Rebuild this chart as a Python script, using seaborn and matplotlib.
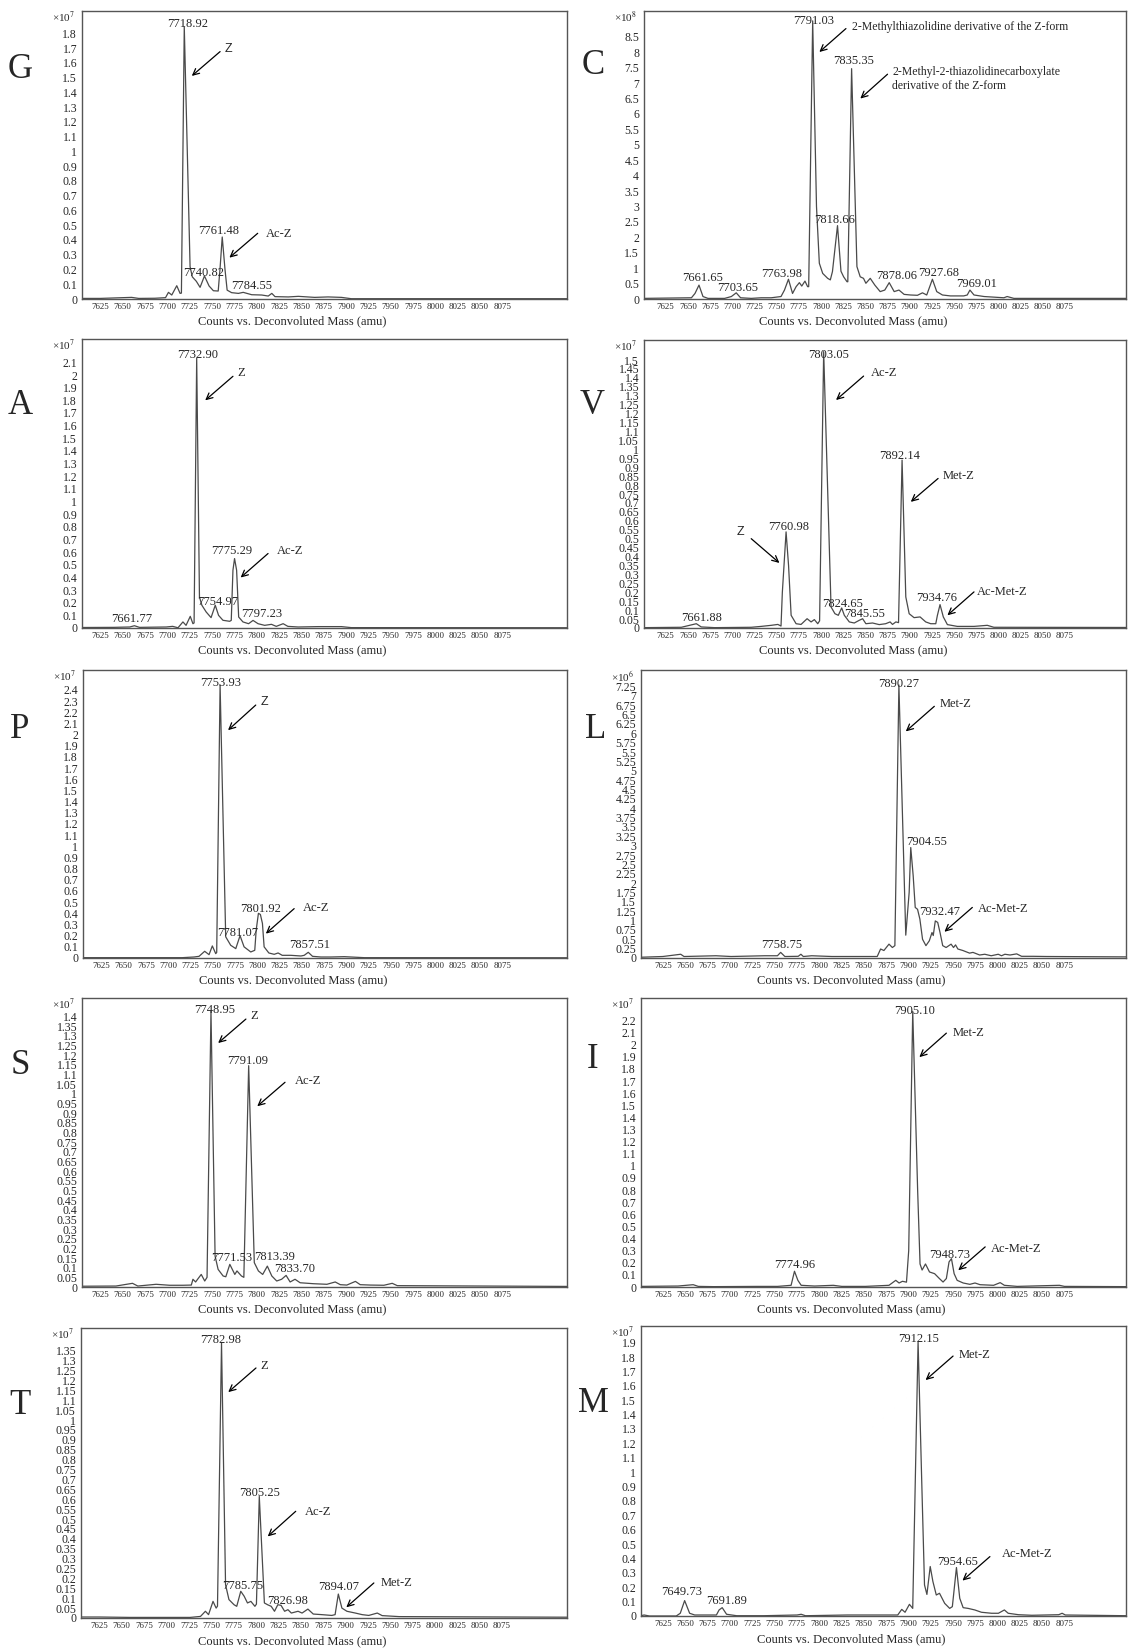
import numpy as np
import pandas as pd
import matplotlib
matplotlib.use("Agg")
import matplotlib.pyplot as plt
import seaborn as sns

# ---------------------------------------------------------------- data
# deconvoluted mass spectra, counts in units of the panel multiplier (x10^n)
mass_G = [7605, 7625, 7660, 7668, 7686, 7698, 7701.3, 7705, 7710.6, 7714.3, 7715.8, 7719, 7725.5, 7728,
          7732.5, 7736.7, 7741.6, 7746.8, 7751.6, 7757, 7759.2, 7761.5, 7764.6, 7767, 7772, 7779.6, 7785,
          7794.5, 7805.7, 7813, 7817, 7820.6, 7835.5, 7846.7, 7865, 7880, 7895, 7906, 8148]
counts_G = [0.004, 0.004, 0.011, 0.004, 0.005, 0.009, 0.045, 0.027, 0.09, 0.038, 0.04, 1.845, 0.219, 0.15,
            0.12, 0.079, 0.156, 0.088, 0.056, 0.054, 0.219, 0.42, 0.2, 0.06, 0.043, 0.038, 0.045,
            0.029, 0.027, 0.02, 0.038, 0.016, 0.014, 0.018, 0.011, 0.014, 0.011, 0.002, 0.002]

mass_A = [7605, 7640, 7658, 7663.2, 7668.8, 7698.8, 7706, 7712, 7717.5, 7721, 7725.7, 7728.7, 7730, 7732.9,
          7736, 7738.7, 7743.5, 7749, 7753.7, 7757.4, 7762.3, 7769.8, 7771.6, 7773.5, 7775.3, 7777.6,
          7779.9, 7784.7, 7791, 7796, 7801.6, 7809, 7816.6, 7822, 7829.7, 7835, 7846.5, 7869, 7895, 7906, 8148]
counts_A = [0.004, 0.005, 0.008, 0.018, 0.005, 0.008, 0.013, 0.002, 0.048, 0.021, 0.092, 0.034, 0.04, 2.134,
            0.246, 0.18, 0.127, 0.082, 0.18, 0.1, 0.061, 0.053, 0.06, 0.457, 0.549, 0.457,
            0.087, 0.048, 0.034, 0.06, 0.034, 0.021, 0.029, 0.013, 0.034, 0.013, 0.008, 0.011, 0.011, 0.003, 0.002]

mass_P = [7605, 7716, 7729, 7734.7, 7741, 7745.9, 7749.6, 7753.4, 7754.5, 7758.3, 7764.6, 7770.2, 7775.9,
          7780.7, 7785.2, 7792.7, 7797.2, 7798.8, 7801.3, 7803.5, 7805.8, 7807.7, 7813, 7819, 7823.4, 7828,
          7837.7, 7849, 7852.7, 7857.2, 7862, 7871.4, 7882.6, 7897.6, 7920, 8148]
counts_P = [0.003, 0.003, 0.009, 0.015, 0.06, 0.03, 0.108, 0.039, 0.05, 2.445, 0.19, 0.114, 0.084,
            0.2, 0.1, 0.054, 0.069, 0.25, 0.4, 0.39, 0.31, 0.1, 0.045, 0.033, 0.045, 0.024,
            0.024, 0.018, 0.024, 0.051, 0.015, 0.009, 0.009, 0.012, 0.003, 0.002]

mass_S = [7605, 7642.5, 7661, 7667, 7687.5, 7702.5, 7717.5, 7726.9, 7728.7, 7731.7, 7734.4, 7738, 7741.9,
          7744.5, 7748.9, 7753.5, 7756.9, 7762.5, 7765.5, 7770, 7775.6, 7778, 7783, 7785.7, 7791.1, 7797.4,
          7802, 7806.8, 7812, 7817, 7822.5, 7828, 7833, 7837.5, 7843, 7848.7, 7863.7, 7878.7, 7888, 7893.7,
          7901, 7910.6, 7916, 7927.5, 7942.5, 7951.8, 7957.5, 8148]
counts_S = [0.004, 0.005, 0.019, 0.005, 0.014, 0.009, 0.009, 0.01, 0.04, 0.026, 0.043, 0.065, 0.031,
            0.05, 1.426, 0.16, 0.091, 0.057, 0.053, 0.117, 0.065, 0.083, 0.057, 0.05, 1.145, 0.126,
            0.083, 0.065, 0.108, 0.057, 0.031, 0.04, 0.06, 0.026, 0.04, 0.022, 0.017, 0.014, 0.026, 0.012,
            0.01, 0.029, 0.012, 0.01, 0.009, 0.019, 0.007, 0.003]

mass_T = [7605, 7625, 7659, 7726.5, 7738, 7743.5, 7747, 7752, 7755.5, 7757, 7761.5, 7766, 7769.8, 7775.5,
          7778.5, 7783, 7786.8, 7790.5, 7794.3, 7798.8, 7800.5, 7803.7, 7809.4, 7813, 7817, 7820.7, 7824.4,
          7828, 7832, 7835.7, 7839.5, 7847, 7851.5, 7858, 7864, 7873.4, 7884.7, 7888.4, 7892, 7896,
          7901.6, 7911, 7918.6, 7926, 7935.5, 7941, 7960, 8148]
counts_T = [0.005, 0.005, 0.003, 0.003, 0.008, 0.034, 0.017, 0.084, 0.05, 0.06, 1.389, 0.168, 0.093, 0.067,
            0.059, 0.135, 0.11, 0.076, 0.084, 0.059, 0.07, 0.614, 0.076, 0.067, 0.059, 0.034, 0.067,
            0.064, 0.034, 0.042, 0.025, 0.034, 0.025, 0.045, 0.02, 0.017, 0.013, 0.017, 0.121, 0.05,
            0.034, 0.025, 0.017, 0.013, 0.025, 0.012, 0.007, 0.004]

mass_C = [7600, 7654, 7658, 7662.5, 7667, 7672.6, 7691.4, 7699, 7704.5, 7709.4, 7721.4, 7732.6, 7744, 7755,
          7758.9, 7763.4, 7768, 7772, 7775.7, 7778.4, 7782, 7785, 7786.2, 7790.7, 7795, 7798.2, 7802,
          7807.6, 7810.6, 7813, 7818.7, 7822.6, 7825.6, 7829.4, 7830.3, 7834.6, 7840.6, 7844.3, 7848,
          7850.7, 7855.6, 7860.8, 7866.8, 7872, 7877, 7882.6, 7888, 7893.8, 7901, 7908.8, 7914.5, 7919.3,
          7925.7, 7930.6, 7937, 7946, 7961, 7965, 7968, 7972.6, 7984, 8006.3, 8010, 8017.6, 8144]
counts_C = [0.02, 0.04, 0.18, 0.45, 0.08, 0.02, 0.02, 0.08, 0.2, 0.04, 0.02, 0.04, 0.04, 0.08,
            0.29, 0.64, 0.18, 0.4, 0.53, 0.42, 0.58, 0.4, 0.4, 9.02, 3.0, 1.16, 0.83,
            0.67, 0.62, 0.89, 2.38, 0.9, 0.72, 0.56, 0.56, 7.47, 1.05, 0.72, 0.67,
            0.51, 0.67, 0.45, 0.24, 0.29, 0.53, 0.24, 0.29, 0.15, 0.13, 0.12, 0.2, 0.13,
            0.64, 0.24, 0.13, 0.1, 0.1, 0.13, 0.29, 0.13, 0.08, 0.04, 0.08, 0.02, 0.02]

mass_V = [7600, 7642.6, 7659.5, 7665, 7680, 7721.4, 7732.6, 7744, 7751.4, 7755, 7756.5, 7760.7, 7763.5,
          7766.4, 7772, 7777.6, 7784.4, 7788.9, 7792.6, 7796.4, 7798.5, 7803.1, 7811.4, 7815.8, 7819.6,
          7823.4, 7826.4, 7832, 7837.6, 7843.2, 7847, 7850.7, 7858.2, 7865.7, 7873, 7878, 7880.7, 7884.5,
          7887.5, 7891.5, 7895.7, 7899.5, 7905, 7911.8, 7918.2, 7923.8, 7929.5, 7931.3, 7934.3, 7938,
          7942.6, 7953.8, 7972.6, 7987.6, 7995, 8144]
counts_V = [0.002, 0.004, 0.024, 0.006, 0.002, 0.004, 0.009, 0.015, 0.02, 0.011, 0.2, 0.538, 0.35,
            0.071, 0.024, 0.02, 0.052, 0.034, 0.047, 0.024, 0.04, 1.547, 0.118, 0.08, 0.071,
            0.112, 0.071, 0.034, 0.028, 0.043, 0.052, 0.024, 0.028, 0.019, 0.024, 0.034, 0.02, 0.034,
            0.03, 0.94, 0.174, 0.08, 0.058, 0.062, 0.034, 0.024, 0.024, 0.07, 0.131, 0.062,
            0.019, 0.009, 0.009, 0.015, 0.004, 0.003]

mass_L = [7600, 7625, 7645, 7648.7, 7684.5, 7701.4, 7739, 7753.4, 7757, 7761.7, 7776.7, 7779.7, 7782.4,
          7791.8, 7803, 7814.4, 7865.2, 7869, 7872.7, 7878.4, 7882.2, 7885, 7889.5, 7897.2, 7901, 7902.8,
          7905.5, 7907.8, 7910.4, 7913, 7916, 7919.8, 7923.6, 7926.6, 7928, 7930.3, 7933, 7935.6, 7938.6,
          7942.4, 7948, 7950.7, 7953, 7955.6, 7961.2, 7968.7, 7972.5, 7980, 7985.7, 7993, 8000.8, 8004.5,
          8008.3, 8014, 8021.5, 8027, 8040, 8055, 8144]
counts_L = [0.02, 0.04, 0.1, 0.04, 0.06, 0.04, 0.06, 0.06, 0.15, 0.04, 0.045, 0.1, 0.04,
            0.06, 0.05, 0.04, 0.04, 0.24, 0.2, 0.37, 0.28, 0.33, 7.29, 0.61, 1.75, 2.95,
            2.2, 1.35, 1.3, 1.04, 0.5, 0.33, 0.46, 0.68, 0.6, 0.99, 0.95, 0.68, 0.33,
            0.28, 0.37, 0.28, 0.35, 0.24, 0.2, 0.13, 0.15, 0.08, 0.1, 0.06, 0.1, 0.06,
            0.1, 0.08, 0.11, 0.045, 0.045, 0.04, 0.03]

mass_I = [7600, 7642, 7659, 7664.7, 7681.7, 7731, 7753.6, 7768.7, 7772.5, 7776.3, 7780, 7795, 7816,
          7825.5, 7852, 7878.4, 7886, 7889.7, 7893.5, 7898, 7900.5, 7905, 7910.5, 7913.2, 7915.5, 7919.3,
          7923.8, 7929.5, 7935, 7939, 7942.7, 7945.7, 7948.4, 7951.4, 7954.8, 7961.6, 7969, 7974.8, 7980.5,
          7995.6, 8003, 8007.7, 8022, 8069.4, 8075, 8144]
counts_I = [0.005, 0.008, 0.019, 0.005, 0.003, 0.005, 0.005, 0.014, 0.13, 0.055, 0.014, 0.008, 0.014,
            0.005, 0.005, 0.014, 0.055, 0.033, 0.047, 0.04, 0.3, 2.275, 0.8, 0.19, 0.14, 0.19,
            0.124, 0.11, 0.069, 0.041, 0.07, 0.207, 0.234, 0.11, 0.055, 0.033, 0.022, 0.033, 0.019,
            0.014, 0.036, 0.014, 0.005, 0.014, 0.005, 0.003]

mass_M = [7599, 7604, 7610, 7640, 7644.5, 7649.4, 7655, 7660.7, 7685, 7688, 7691.5, 7696.4, 7707.7, 7737.8,
          7775.4, 7780, 7784.8, 7831.8, 7888.2, 7892.7, 7896.4, 7901.3, 7905, 7911, 7915.2, 7918.2, 7920.9,
          7924.6, 7927.6, 7931.4, 7935, 7940.8, 7946.4, 7949.4, 7954, 7957.7, 7961.5, 7967, 7974.6, 7982,
          7993.4, 8001, 8007.7, 8012, 8023.5, 8038.5, 8068.6, 8072.4, 8076, 8144]
counts_M = [0.0, 0.007, 0.0, 0.0, 0.019, 0.107, 0.019, 0.007, 0.007, 0.042, 0.058, 0.012, 0.002, 0.002,
            0.007, 0.012, 0.002, 0.007, 0.007, 0.046, 0.026, 0.081, 0.053, 1.907, 0.91, 0.216, 0.15,
            0.344, 0.24, 0.146, 0.158, 0.088, 0.053, 0.065, 0.337, 0.123, 0.058, 0.053, 0.042, 0.026,
            0.019, 0.019, 0.042, 0.019, 0.009, 0.005, 0.009, 0.019, 0.007, 0.002]

x_ticks = list(range(7625, 8076, 25))
x_title = "Counts vs. Deconvoluted Mass (amu)"

# ---------------------------------------------------------------- layout
W, H = 1128, 1648
SERIF = ["Liberation Serif", "DejaVu Serif"]
SANS = ["Liberation Sans", "DejaVu Sans"]

# box in pixels (left, top, right, bottom), letter position, y range / ticks, exponent
panels = [
    ("G", mass_G, counts_G, (82, 11, 567, 299), (20, 70), 1.951, 1.8, 0.1, "7"),
    ("C", mass_C, counts_C, (644, 11, 1126, 299), (593, 66), 9.34, 8.5, 0.5, "8"),
    ("A", mass_A, counts_A, (82, 339, 567, 628), (20, 405), 2.285, 2.1, 0.1, "7"),
    ("V", mass_V, counts_V, (644, 340, 1126, 628), (592, 405), 1.612, 1.5, 0.05, "7"),
    ("P", mass_P, counts_P, (83, 670, 567, 958), (20, 730), 2.579, 2.4, 0.1, "7"),
    ("L", mass_L, counts_L, (641, 670, 1126, 958), (596, 730), 7.69, 7.25, 0.25, "6"),
    ("S", mass_S, counts_S, (82, 998, 567, 1287), (20, 1065), 1.495, 1.4, 0.05, "7"),
    ("I", mass_I, counts_I, (641, 998, 1126, 1287), (593, 1060), 2.385, 2.2, 0.1, "7"),
    ("T", mass_T, counts_T, (81, 1328, 567, 1618), (20, 1405), 1.465, 1.35, 0.05, "7"),
    ("M", mass_M, counts_M, (641, 1326, 1126, 1616), (593, 1403), 2.016, 1.9, 0.1, "7"),
]

# peak labels: text, centre x, centre y
peak_text = {
    "G": [("7718.92", 7723, 1.861), ("7740.82", 7741.2, 0.174), ("7761.48", 7757.2, 0.463),
          ("7784.55", 7794.5, 0.09)],
    "A": [("7732.90", 7734.2, 2.16), ("7661.77", 7660.4, 0.074), ("7754.97", 7756.7, 0.206),
          ("7775.29", 7771.6, 0.607), ("7797.23", 7805.3, 0.108)],
    "P": [("7753.93", 7759, 2.46), ("7781.07", 7777.7, 0.224), ("7801.92", 7804, 0.442),
          ("7857.51", 7859, 0.114)],
    "S": [("7748.95", 7753, 1.434), ("7791.09", 7789.5, 1.171), ("7771.53", 7771.9, 0.152),
          ("7813.39", 7820.6, 0.155), ("7833.70", 7843, 0.095)],
    "T": [("7782.98", 7760.4, 1.406), ("7805.25", 7803.7, 0.631), ("7785.75", 7785.7, 0.16),
          ("7826.98", 7835.7, 0.084), ("7894.07", 7892.2, 0.155)],
    "C": [("7791.03", 7791.9, 9.02), ("7835.35", 7836.8, 7.71), ("7818.66", 7815.9, 2.56),
          ("7661.65", 7666.2, 0.67), ("7703.65", 7706.4, 0.35), ("7763.98", 7755.9, 0.81),
          ("7878.06", 7885.6, 0.75), ("7927.68", 7933.2, 0.85), ("7969.01", 7975.2, 0.49)],
    "V": [("7803.05", 7808.4, 1.528), ("7892.14", 7888.2, 0.962), ("7760.98", 7763.4, 0.566),
          ("7824.65", 7824.5, 0.136), ("7845.55", 7849.6, 0.077), ("7934.76", 7930.6, 0.168),
          ("7661.88", 7665.9, 0.058)],
    "L": [("7890.27", 7889.7, 7.32), ("7904.55", 7920.6, 3.1), ("7932.47", 7935.6, 1.24),
          ("7758.75", 7757.9, 0.35)],
    "I": [("7905.10", 7906.8, 2.275), ("7948.73", 7946.5, 0.262), ("7774.96", 7772.5, 0.185)],
    "M": [("7912.15", 7911.5, 1.928), ("7954.65", 7955, 0.372), ("7649.73", 7645.7, 0.165),
          ("7691.89", 7696.4, 0.105)],
}

# arrow notes: text, font, text left/centre-y, arrow tail, arrow head
notes = {
    "G": [("Z", SANS, (7764, 1.694), (7759.1, 1.676), (7727.4, 1.511)),
          ("Ac-Z", SERIF, (7810.5, 0.438), (7801.2, 0.445), (7769.5, 0.28))],
    "A": [("Z", SERIF, (7778.4, 2.02), (7773.5, 1.99), (7742.4, 1.80)),
          ("Ac-Z", SERIF, (7822.2, 0.607), (7812.8, 0.589), (7782.1, 0.399))],
    "P": [("Z", SANS, (7804, 2.295), (7798.3, 2.265), (7767.2, 2.04)),
          ("Ac-Z", SERIF, (7850.8, 0.451), (7841.4, 0.442), (7809.6, 0.218))],
    "S": [("Z", SERIF, (7792.5, 1.4), (7788, 1.386), (7756.9, 1.262)),
          ("Ac-Z", SERIF, (7843, 1.068), (7831.8, 1.059), (7800.7, 0.935))],
    "T": [("Z", SERIF, (7804.9, 1.274), (7800, 1.263), (7769, 1.141)),
          ("Ac-Z", SERIF, (7854.5, 0.535), (7844.4, 0.539), (7813.1, 0.412)),
          ("Met-Z", SERIF, (7939.3, 0.177), (7931.7, 0.177), (7900.9, 0.054))],
    "C": [("2-Methylthiazolidine derivative of the Z-form", SERIF, (7834.6, 8.82), (7828.2, 8.77), (7798.2, 8.01)),
          ("2-Methyl-2-thiazolidinecarboxylate\nderivative of the Z-form", SERIF, (7880.7, 7.13),
           (7875.1, 7.29), (7844.4, 6.5))],
    "V": [("Ac-Z", SERIF, (7856.3, 1.429), (7848.1, 1.41), (7817, 1.276)),
          ("Met-Z", SERIF, (7937, 0.85), (7932.1, 0.837), (7901.3, 0.706)),
          ("Z", SANS, (7704.5, 0.538), (7721.4, 0.5), (7753.2, 0.364)),
          ("Ac-Met-Z", SERIF, (7976.3, 0.202), (7972.6, 0.202), (7942.6, 0.071))],
    "L": [("Met-Z", SERIF, (7934.9, 6.79), (7929.2, 6.72), (7897.2, 6.05)),
          ("Ac-Met-Z", SERIF, (7978.2, 1.3), (7971.8, 1.35), (7940.5, 0.7))],
    "I": [("Met-Z", SERIF, (7950.3, 2.1), (7942.7, 2.095), (7912.4, 1.897)),
          ("Ac-Met-Z", SERIF, (7992.6, 0.317), (7986.2, 0.331), (7956, 0.138))],
    "M": [("Met-Z", SERIF, (7957, 1.814), (7950.2, 1.807), (7919.4, 1.64)),
          ("Ac-Met-Z", SERIF, (8004.7, 0.43), (7991.5, 0.413), (7960.7, 0.246))],
}

sns.set_style("white")
plt.rcParams["font.family"] = SERIF
plt.rcParams["axes.linewidth"] = 1.0
plt.rcParams["mathtext.fontset"] = "stix"

fig = plt.figure(figsize=(W / 100, H / 100), dpi=100)
fig.patch.set_facecolor("white")

for key, mass, counts, box, letter, ymax, ytop, ystep, expo in panels:
    l, t, r, b = box
    ax = fig.add_axes([l / W, 1 - b / H, (r - l) / W, (b - t) / H])
    df = pd.DataFrame({"mass": mass, "counts": counts})
    sns.lineplot(data=df, x="mass", y="counts", ax=ax, color="#4a4a4a", lw=0.9,
                 estimator=None, sort=False)

    left_col = l < 300
    ax.set_xlim((7604.5, 8147.5) if left_col else (7600.5, 8144))
    ax.set_ylim(0, ymax)

    ax.set_xticks(x_ticks)
    ax.set_xticklabels([str(v) for v in x_ticks], fontsize=6.4)
    yt = np.round(np.arange(0, ytop + ystep / 2, ystep), 3)
    ax.set_yticks(yt)
    ax.set_yticklabels([f"{v:g}" for v in yt], fontsize=8.5)
    ax.tick_params(axis="x", length=0, pad=3)
    ax.tick_params(axis="y", length=2, width=0.6, pad=1.5, color="#444444")

    ax.set_ylabel("")
    ax.set_xlabel(x_title, fontsize=9)
    ax.xaxis.set_label_coords(0.434, -0.058)
    for sp in ax.spines.values():
        sp.set_color("#555555")
        sp.set_linewidth(1.0)

    ax.annotate("\u00d710" + "$^{" + expo + "}$", xy=(0, 1), xycoords="axes fraction",
                xytext=(-13, -5), textcoords="offset points", ha="center", va="center",
                fontsize=8)

    for txt, px, py in peak_text[key]:
        ax.text(px, py, txt, ha="center", va="center", fontsize=9)

    for txt, fam, (tx, ty), tail, head in notes[key]:
        ax.annotate("", xy=head, xytext=tail,
                    arrowprops=dict(arrowstyle="->,head_length=0.45,head_width=0.22",
                                    color="black", lw=0.9, shrinkA=0, shrinkB=0))
        size = 8.5 if key == "C" else 9
        ax.text(tx, ty, txt, ha="left", va="center", fontsize=size, family=fam,
                linespacing=1.3)

    fig.text(letter[0] / W, 1 - letter[1] / H, key, ha="center", va="center", fontsize=25)

fig.savefig("out.png", dpi=100, facecolor="white")
